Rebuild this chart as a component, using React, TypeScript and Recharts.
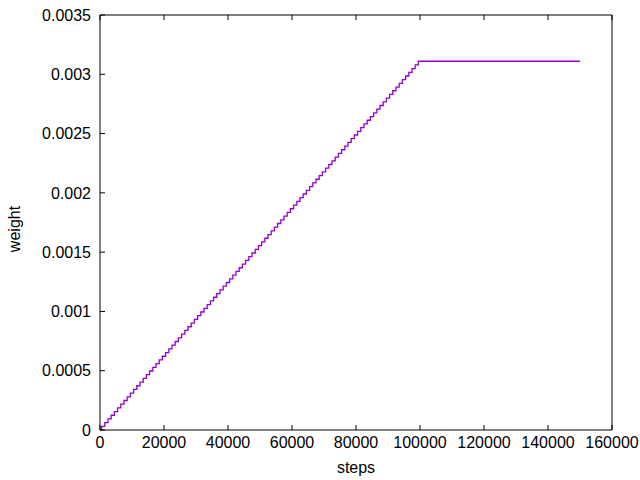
import { LineChart, Line, XAxis, YAxis, Label } from 'recharts';

// training steps, one point every 1000 steps, then a flat tail
const steps = [
  0, 1000, 2000, 3000, 4000, 5000, 6000, 7000, 8000, 9000,
  10000, 11000, 12000, 13000, 14000, 15000, 16000, 17000, 18000, 19000,
  20000, 21000, 22000, 23000, 24000, 25000, 26000, 27000, 28000, 29000,
  30000, 31000, 32000, 33000, 34000, 35000, 36000, 37000, 38000, 39000,
  40000, 41000, 42000, 43000, 44000, 45000, 46000, 47000, 48000, 49000,
  50000, 51000, 52000, 53000, 54000, 55000, 56000, 57000, 58000, 59000,
  60000, 61000, 62000, 63000, 64000, 65000, 66000, 67000, 68000, 69000,
  70000, 71000, 72000, 73000, 74000, 75000, 76000, 77000, 78000, 79000,
  80000, 81000, 82000, 83000, 84000, 85000, 86000, 87000, 88000, 89000,
  90000, 91000, 92000, 93000, 94000, 95000, 96000, 97000, 98000, 99000,
  100000, 150000,
];

const weights = [
  0, 0.0000311, 0.0000622, 0.0000933, 0.0001244, 0.0001555, 0.0001866, 0.0002177, 0.0002488, 0.0002799,
  0.000311, 0.0003421, 0.0003732, 0.0004043, 0.0004354, 0.0004665, 0.0004976, 0.0005287, 0.0005598, 0.0005909,
  0.000622, 0.0006531, 0.0006842, 0.0007153, 0.0007464, 0.0007775, 0.0008086, 0.0008397, 0.0008708, 0.0009019,
  0.000933, 0.0009641, 0.0009952, 0.0010263, 0.0010574, 0.0010885, 0.0011196, 0.0011507, 0.0011818, 0.0012129,
  0.001244, 0.0012751, 0.0013062, 0.0013373, 0.0013684, 0.0013995, 0.0014306, 0.0014617, 0.0014928, 0.0015239,
  0.001555, 0.0015861, 0.0016172, 0.0016483, 0.0016794, 0.0017105, 0.0017416, 0.0017727, 0.0018038, 0.0018349,
  0.001866, 0.0018971, 0.0019282, 0.0019593, 0.0019904, 0.0020215, 0.0020526, 0.0020837, 0.0021148, 0.0021459,
  0.002177, 0.0022081, 0.0022392, 0.0022703, 0.0023014, 0.0023325, 0.0023636, 0.0023947, 0.0024258, 0.0024569,
  0.002488, 0.0025191, 0.0025502, 0.0025813, 0.0026124, 0.0026435, 0.0026746, 0.0027057, 0.0027368, 0.0027679,
  0.002799, 0.0028301, 0.0028612, 0.0028923, 0.0029234, 0.0029545, 0.0029856, 0.0030167, 0.0030478, 0.0030789,
  0.00311, 0.00311,
];

const xTicks = [0, 20000, 40000, 60000, 80000, 100000, 120000, 140000, 160000];
const yTicks = [0, 0.0005, 0.001, 0.0015, 0.002, 0.0025, 0.003, 0.0035];

const data = steps.map((s, i) => ({ step: s, weight: weights[i] }));

const FONT = '"Liberation Sans", Arial, sans-serif';
const FS = 16;
const TICK = 5;

const BottomTick = (props: any) => {
  const { x, y, payload } = props;
  return (
    <g>
      <line x1={x} y1={y} x2={x} y2={y - TICK} stroke="#000" />
      <text x={x} y={y + 7} dy="0.71em" textAnchor="middle" fontSize={FS} fontFamily={FONT} fill="#000">
        {payload.value}
      </text>
    </g>
  );
};

const LeftTick = (props: any) => {
  const { x, y, payload } = props;
  return (
    <g>
      <line x1={x} y1={y} x2={x + TICK} y2={y} stroke="#000" />
      <text x={x - 9} y={y} dy="0.36em" textAnchor="end" fontSize={FS} fontFamily={FONT} fill="#000">
        {payload.value}
      </text>
    </g>
  );
};

const RightTick = (props: any) => {
  const { x, y } = props;
  return <line x1={x} y1={y} x2={x - TICK} y2={y} stroke="#000" />;
};

const TopTick = (props: any) => {
  const { x, y } = props;
  return <line x1={x} y1={y} x2={x} y2={y + TICK} stroke="#000" />;
};

export default function App() {
  return (
    <div style={{ position: 'absolute', left: 0, top: 0, background: '#fff' }}>
      <LineChart width={640} height={480} data={data} margin={{ top: 0, right: 0, bottom: 0, left: 10 }}>
        <XAxis
          dataKey="step"
          type="number"
          domain={[0, 160000]}
          ticks={xTicks}
          interval={0}
          tickSize={0}
          tickMargin={0}
          height={50}
          stroke="#000"
          tick={<BottomTick />}
        >
          <Label
            content={() => (
              <text x={356} y={467} dy="0.36em" textAnchor="middle" fontSize={FS} fontFamily={FONT} fill="#000">
                steps
              </text>
            )}
          />
        </XAxis>
        <XAxis
          xAxisId="top"
          orientation="top"
          dataKey="step"
          type="number"
          domain={[0, 160000]}
          ticks={xTicks}
          interval={0}
          tickSize={0}
          tickMargin={0}
          height={15}
          stroke="#000"
          tick={<TopTick />}
        />
        <YAxis
          type="number"
          domain={[0, 0.0035]}
          ticks={yTicks}
          interval={0}
          tickSize={0}
          tickMargin={0}
          width={90}
          stroke="#000"
          tick={<LeftTick />}
        >
          <Label
            content={() => (
              <text
                x={14}
                y={229}
                dy="0.36em"
                textAnchor="middle"
                fontSize={FS}
                fontFamily={FONT}
                fill="#000"
                transform="rotate(-90 14 229)"
              >
                weight
              </text>
            )}
          />
        </YAxis>
        <YAxis
          yAxisId="right"
          orientation="right"
          type="number"
          domain={[0, 0.0035]}
          ticks={yTicks}
          interval={0}
          tickSize={0}
          tickMargin={0}
          width={28}
          stroke="#000"
          tick={<RightTick />}
        />
        <Line
          type="step"
          dataKey="weight"
          stroke="#9400d3"
          strokeWidth={1.3}
          dot={false}
          isAnimationActive={false}
        />
      </LineChart>
    </div>
  );
}
